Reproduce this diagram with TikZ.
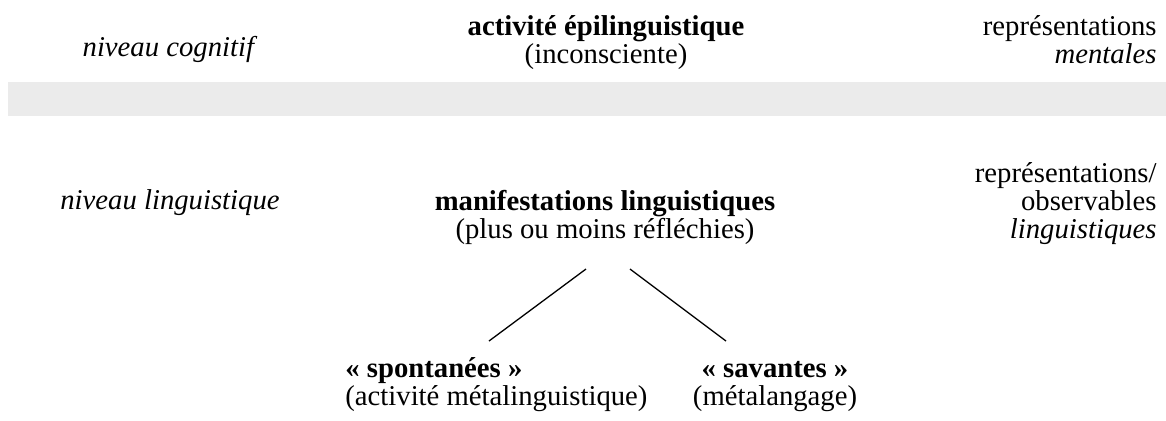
\documentclass[tikz,border=0pt]{standalone}
\usepackage{fontspec}
\setmainfont{Liberation Serif}
\definecolor{bandgray}{HTML}{EBEBEB}
\tikzset{
  textline/.style={inner sep=0pt, anchor=base, font=\fontsize{14.35}{14}\selectfont},
  branch/.style={line width=0.65pt},
}
\begin{document}
\begin{tikzpicture}[x=0.5pt,y=-0.5pt]
\useasboundingbox (0,0) rectangle (1166,420);
\fill[bandgray] (8,82) rectangle (1166,116);

% cognitive level
\node[textline] (cogn) at (170,56) {\textit{niveau cognitif}};
\node[textline] (epi) at (606,35) {\textbf{activité épilinguistique}};
\node[textline] (epi2) at ([yshift=-14pt]epi.base) {(inconsciente)};
\node[textline, anchor=base east] (mental) at (1157,35) {représentations};
\node[textline, anchor=base east] (mental2) at ([yshift=-14pt]mental.base east) {\textit{mentales}};

% linguistic level
\node[textline] (ling) at (170,209) {\textit{niveau linguistique}};
\node[textline] (manif) at (605,210) {\textbf{manifestations linguistiques}};
\node[textline] (manif2) at ([yshift=-14pt]manif.base) {(plus ou moins réfléchies)};
\node[textline, anchor=base east] (observ) at (1157,182) {représentations/};
\node[textline, anchor=base east] (observ2) at ([yshift=-14pt]observ.base east) {observables};
\node[textline, anchor=base east] (observ3) at ([yshift=-14pt]observ2.base east) {\textit{linguistiques}};

\node[textline, anchor=base west] (spont) at (345,377) {\textbf{« spontanées »}};
\node[textline, anchor=base west] (spont2) at ([yshift=-14pt]spont.base west) {(activité métalinguistique)};
\node[textline] (savant) at (775,377) {\textbf{« savantes »}};
\node[textline] (savant2) at ([yshift=-14pt]savant.base) {(métalangage)};

\draw[branch] ([xshift=-9.5pt,yshift=-15.5pt]manif2.base) -- ([xshift=72pt,yshift=18pt]spont.base west);
\draw[branch] ([xshift=12.5pt,yshift=-15.5pt]manif2.base) -- ([xshift=-24.5pt,yshift=18pt]savant.base);
\end{tikzpicture}
\end{document}
